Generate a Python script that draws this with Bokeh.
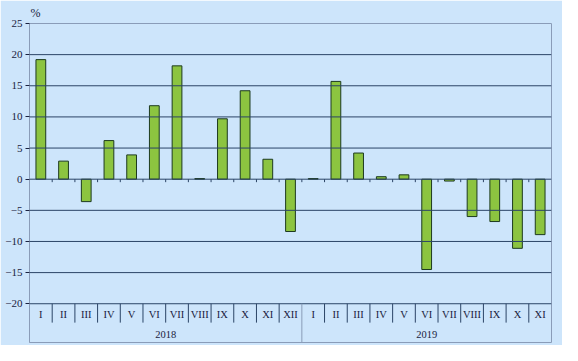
from bokeh.plotting import figure
from bokeh.models import Range1d, FixedTicker, ColumnDataSource, Span
from bokeh.core.properties import value
from bokeh.embed import file_html
from bokeh.resources import INLINE

# ---- data ----
years = ["2018", "2019"]
months_2018 = ["I", "II", "III", "IV", "V", "VI", "VII", "VIII", "IX", "X", "XI", "XII"]
months_2019 = ["I", "II", "III", "IV", "V", "VI", "VII", "VIII", "IX", "X", "XI"]
values_2018 = [19.2, 2.9, -3.6, 6.2, 3.9, 11.8, 18.2, 0.1, 9.7, 14.2, 3.2, -8.4]
values_2019 = [0.1, 15.7, 4.2, 0.4, 0.7, -14.5, -0.3, -6.0, -6.8, -11.1, -8.9]
y_ticks = [-20, -15, -10, -5, 0, 5, 10, 15, 20, 25]
unit_label = "%"

# ---- styling ----
BG = "#cde5fb"
GRID = "#2b4466"
FRAME = "#8a9cb8"
TEXT = "#1a2240"
BAR_FILL = "#8cc440"
BAR_LINE = "#1d3a1f"
FONT = "Liberation Serif"

labels = months_2018 + months_2019
vals = values_2018 + values_2019
n = len(vals)
xs = [i + 0.5 for i in range(n)]

W, H = 562, 345
left, right, top, bottom = 29, 11, 21, 3
frame_h = H - top - bottom
px_per_unit = 282 / 45.0
ymax = 25
ymin = ymax - frame_h / px_per_unit

p = figure(width=W, height=H, output_backend="svg", toolbar_location=None,
           x_range=Range1d(0, n), y_range=Range1d(ymin, ymax),
           min_border_left=left, min_border_right=right,
           min_border_top=top, min_border_bottom=bottom)
p.background_fill_color = BG
p.border_fill_color = BG
p.outline_line_color = FRAME
p.outline_line_width = 1
p.xaxis.visible = False
p.xgrid.visible = False
p.ygrid.visible = False

p.title.text = unit_label
p.title.align = "left"
p.title.offset = 1
p.title.text_font = FONT
p.title.text_font_style = "normal"
p.title.text_font_size = "12px"
p.title.text_color = TEXT
p.title.standoff = 7

ya = p.yaxis[0]
ya.ticker = FixedTicker(ticks=y_ticks)
ya.axis_line_color = FRAME
ya.major_tick_line_color = TEXT
ya.major_tick_out = 4
ya.major_tick_in = 0
ya.minor_tick_line_color = None
ya.major_label_text_font = FONT
ya.major_label_text_font_size = "11px"
ya.major_label_text_color = TEXT
ya.major_label_standoff = 3

# gridlines (data values)
for t in y_ticks:
    if t in (-20, 25):
        continue
    p.add_layout(Span(location=t, dimension="width", line_color=GRID, line_width=1))

# bars
src = ColumnDataSource(dict(x=xs, top=vals))
p.vbar(x="x", top="top", bottom=0, width=0.43, source=src,
       fill_color=BAR_FILL, line_color=BAR_LINE, line_width=1)

# zero-line ticks between categories
tick_len = 3 / px_per_unit
bx = list(range(1, n))
p.segment(x0=bx, y0=[0] * len(bx), x1=bx, y1=[-tick_len] * len(bx),
          line_color=GRID, line_width=1)

# category axis at bottom
axis_y = y_ticks[0]
p.segment(x0=[0], y0=[axis_y], x1=[n], y1=[axis_y], line_color=GRID, line_width=1)
sep_len = 19 / px_per_unit
n18 = len(months_2018)
short = [b for b in bx if b != n18]
p.segment(x0=short, y0=[axis_y] * len(short), x1=short,
          y1=[axis_y - sep_len] * len(short), line_color=GRID, line_width=1)
p.segment(x0=[n18], y0=[axis_y], x1=[n18], y1=[ymin], line_color=FRAME, line_width=1)

p.text(x=xs, y=[axis_y] * n, text=labels, y_offset=11,
       text_align="center", text_baseline="middle",
       text_font=value(FONT), text_font_size="10.5px", text_color=TEXT)

n19 = len(months_2019)
year_x = [n18 / 2.0, n18 + n19 / 2.0]
p.text(x=year_x, y=[axis_y] * 2, text=years, y_offset=31,
       text_align="center", text_baseline="middle",
       text_font=value(FONT), text_font_size="10.5px", text_color=TEXT)

open("out.html", "w").write(file_html(p, INLINE))
